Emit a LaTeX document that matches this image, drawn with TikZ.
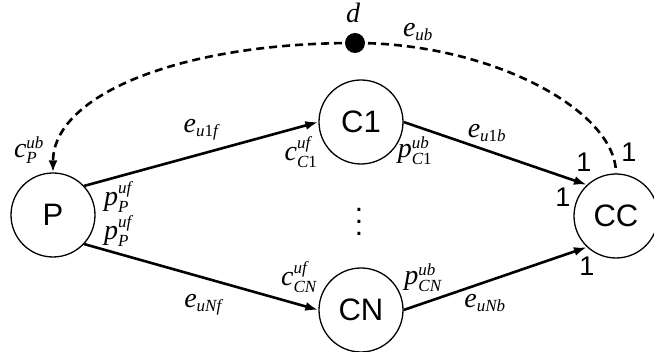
\documentclass[tikz,border=0pt]{standalone}
\usepackage{amsmath}
\usepackage{fontspec}
\setmainfont{Liberation Sans}
\newfontfamily\seriffam{Liberation Serif}
\DeclareMathSizes{28}{28}{17}{13}
\usetikzlibrary{arrows.meta}
\newcommand\vi[1]{\text{\seriffam\itshape #1}}
\newcommand\vu[1]{\text{\seriffam\upshape #1}}
\tikzset{
  vertex/.style={circle,draw,line width=1.3pt,minimum size=84pt,inner sep=0pt,font=\fontsize{31}{36}\selectfont},
  arr/.style={line width=2.6pt,-{Latex[length=13pt,width=9pt]}},
  back/.style={line width=2.6pt,dash pattern=on 8pt off 5pt},
  lab/.style={inner sep=0pt,font=\fontsize{28}{32}\selectfont},
  one/.style={inner sep=0pt,font=\fontsize{27}{30}\selectfont},
}
\begin{document}
\begin{tikzpicture}[x=1pt,y=-1pt]
\useasboundingbox (0,0) rectangle (654,352);
\node[vertex] (P) at (53,215) {P};
\node[vertex] (C1) at (361,122) {C1};
\node[vertex] (CN) at (361,310) {CN};
\node[vertex] (CC) at (616,216) {CC};
\node[circle,fill,minimum size=20pt,inner sep=0pt] (d) at (355,43) {};
\draw[arr] (P.43) -- (C1.west);
\draw[arr] (P.-43) -- (CN.west);
\draw[arr] (C1.east) -- (CC.133);
\draw[arr] (CN.east) -- (CC.-133);
\draw[back,-{Latex[length=12pt,width=9pt]}] (d.center) .. controls (180,43) and (53,95) .. (P.north);
\draw[back] (d.center) .. controls (490,43) and (616,110) .. (CC.north);
\node[lab] (ld) at (353,13) {$\vi{d}$};
\node[lab] (lub) at (418,32) {$\vi{e}_{\vi{ub}}$};
\node[lab] (lcp) at (29,150) {$\vi{c}^{\vi{ub}}_{\vi{P}}$};
\node[lab] (le1f) at (201,130) {$\vi{e}_{\vi{u}\vu{1}\vi{f}}$};
\node[lab] (lc1) at (301,152) {$\vi{c}^{\vi{uf}}_{\vi{C}\vu{1}}$};
\node[lab] (lpp1) at (118,197) {$\vi{p}^{\vi{uf}}_{\vi{P}}$};
\node[lab] (lpp2) at (118,231) {$\vi{p}^{\vi{uf}}_{\vi{P}}$};
\node[lab] (leNf) at (203,305) {$\vi{e}_{\vi{uNf}}$};
\node[lab] (lcN) at (299,277) {$\vi{c}^{\vi{uf}}_{\vi{CN}}$};
\node[lab] (lp1) at (415,151) {$\vi{p}^{\vi{ub}}_{\vi{C}\vu{1}}$};
\node[lab] (le1b) at (487,133) {$\vi{e}_{\vi{u}\vu{1}\vi{b}}$};
\node[lab] (lpN) at (423,278) {$\vi{p}^{\vi{ub}}_{\vi{CN}}$};
\node[lab] (leNb) at (485,303) {$\vi{e}_{\vi{uNb}}$};
\node[one] (o1) at (584,162) {1};
\node[one] (o2) at (629,152) {1};
\node[one] (o3) at (563,197) {1};
\node[one] (o4) at (587,266) {1};
\node[inner sep=0pt] (vd) at (359,213) {\scalebox{3}{$\vdots$}};
\end{tikzpicture}
\end{document}
